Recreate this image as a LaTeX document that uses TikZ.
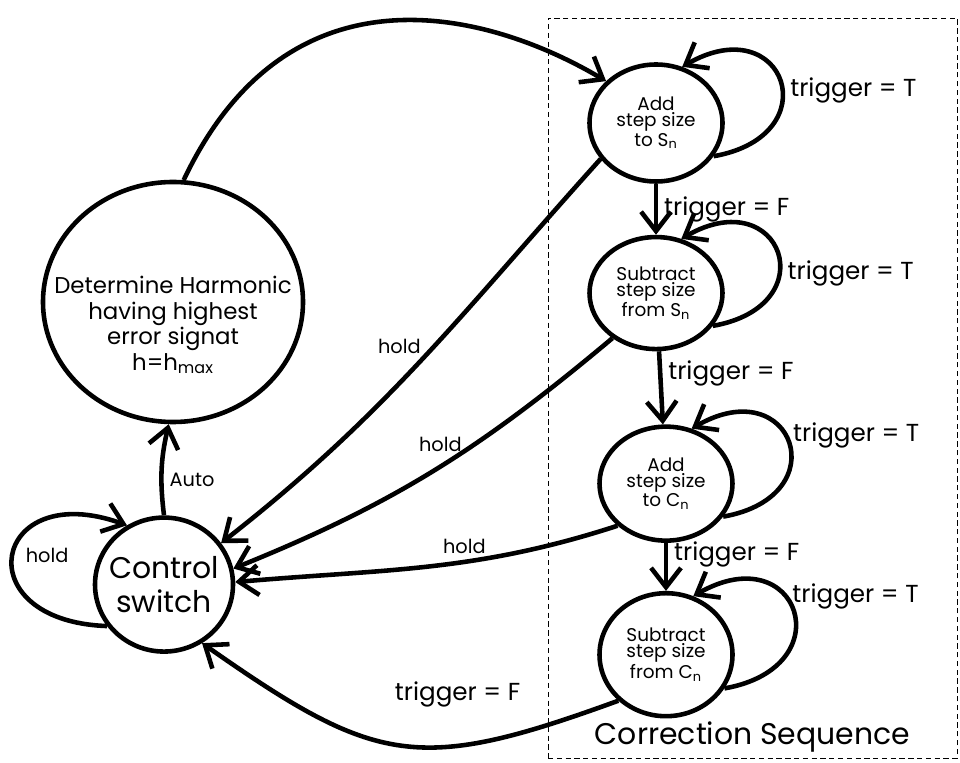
\documentclass[tikz,border=0pt]{standalone}
\usepackage{fontspec}
\setmainfont{Poppins}
\usetikzlibrary{arrows.meta, positioning, shapes.geometric}

\begin{document}
\begin{tikzpicture}
    % Define styles
    \tikzset{
        state/.style={draw, ellipse, line width=2.6pt, inner sep=-1cm, align=center},
        seqstate/.style={state, minimum width=2.66cm, font=\fontsize{10.5}{9}\selectfont},
        edgelabel/.style={font=\fontsize{14}{15}\selectfont},
        smalllabel/.style={font=\fontsize{11}{12}\selectfont},
        trans/.style={line width=2.6pt, -{Straight Barb[length=11pt, width=17pt]}},
        selfloop/.style={trans, out=10, in=30, looseness=3.2},
        seqbox/.style={draw, densely dashed, line width=0.5pt, minimum width=8.18cm, minimum height=14.8cm}
    }
    \useasboundingbox (0,0) rectangle (19.2,15.24);

    % Correction sequence frame
    \node[seqbox] (seq) at (15.05,7.48) {};
    \node[above=0pt of seq.south, font=\fontsize{17}{19}\selectfont] (seqlabel) {Correction Sequence};

    % States
    \node[state, minimum width=5.2cm, minimum height=4.8cm, font=\fontsize{13}{14.5}\selectfont] (det) at (3.46,9.2)
        {\rule{0pt}{36pt}Determine Harmonic\\having highest\\error signat\\h=h\textsubscript{max}};
    \node[state, minimum width=2.76cm, minimum height=2.68cm, font=\fontsize{17}{19}\selectfont,
        below=1.82cm of det, xshift=-1.8mm] (ctrl) {Control\\switch};
    \node[seqstate, minimum height=2.34cm] (addS) at (13.12,12.78) {Add\\step size\\to S\textsubscript{n}};
    \node[seqstate, minimum height=2.24cm, below=1.02cm of addS] (subS) {Subtract\\step size\\from S\textsubscript{n}};
    \node[seqstate, minimum height=2.28cm, below=1.46cm of subS, xshift=2mm] (addC) {Add\\step size\\to C\textsubscript{n}};
    \node[seqstate, minimum height=2.46cm, below=0.96cm of addC] (subC) {Subtract\\step size\\from C\textsubscript{n}};

    % Control switch transitions
    \draw[trans] (det.85) .. controls +(2.1,4.44) and +(-2.36,1.4) .. (addS.140);
    \draw[trans] (ctrl.north) to[bend left=10] node[pos=0.38, right, smalllabel] {Auto} (det.268);
    \draw[trans] (ctrl.216) .. controls +(-2.86,0.1) and +(-2.7,0.97) .. node[pos=0.5, right=1mm, smalllabel] {hold} (ctrl.122);

    % Correction sequence
    \draw[selfloop] (addS.-30) to node[pos=0.45, right, edgelabel] {trigger = T} (addS.65);
    \draw[selfloop] (subS.-30) to node[pos=0.38, right, edgelabel] {trigger = T} (subS.65);
    \draw[selfloop] (addC.-30) to node[pos=0.55, right, edgelabel] {trigger = T} (addC.65);
    \draw[selfloop] (subC.-30) to node[pos=0.6, right, edgelabel] {trigger = T} (subC.65);
    \draw[trans] (addS) -- node[right, edgelabel] {trigger = F} (subS);
    \draw[trans] (subS) -- node[pos=0.3, right, edgelabel] {trigger = F} (addC);
    \draw[trans] (addC) -- node[pos=0.25, right, edgelabel] {trigger = F} (subC);

    % Back to the control switch
    \draw[trans] (addS.213) to[out=228, in=38] node[pos=0.46, left=1mm, smalllabel] {hold} (ctrl.36);
    \draw[trans] (subS.226) to[out=220, in=22] node[pos=0.38, left=1mm, smalllabel] {hold} (ctrl.13);
    \draw[trans] (addC.221) to[out=198, in=5] node[pos=0.4, above=0mm, smalllabel] {hold} (ctrl.2);
    \draw[trans] (subC.224) to[out=200, in=-35, looseness=1.3] node[pos=0.34, above=6mm, edgelabel] {trigger = F} (ctrl.303);
\end{tikzpicture}
\end{document}
